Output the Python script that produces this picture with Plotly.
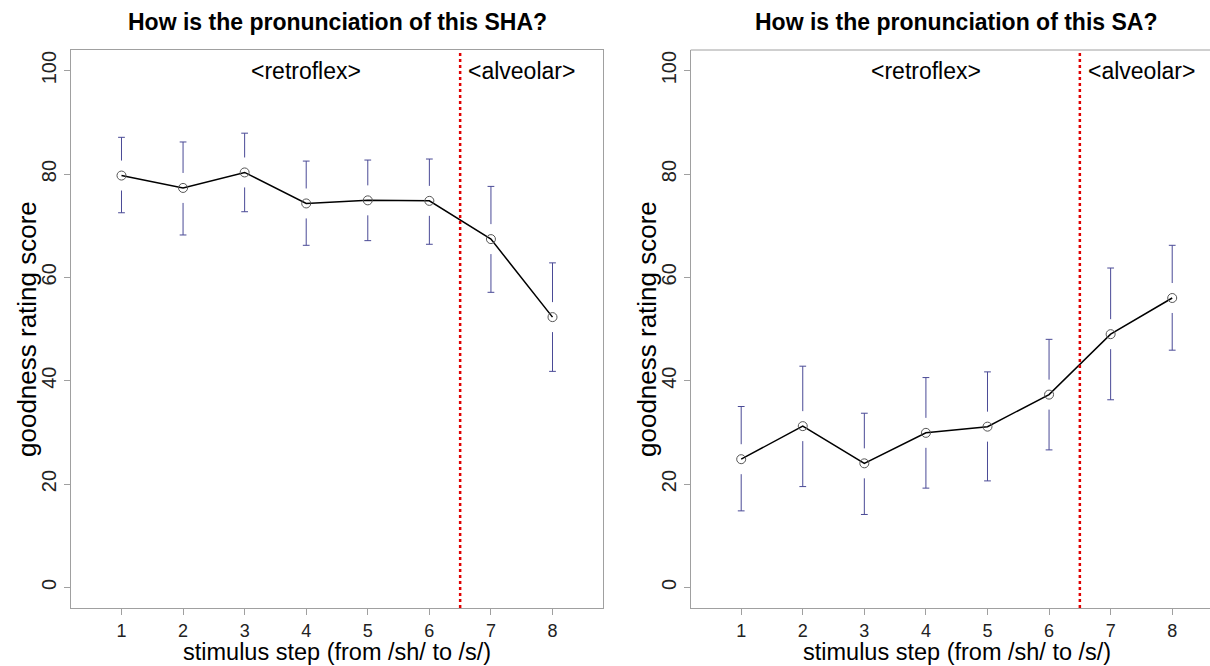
import plotly.graph_objects as go

steps = [1, 2, 3, 4, 5, 6, 7, 8]

sha_mean = [79.7, 77.3, 80.3, 74.3, 74.9, 74.8, 67.4, 52.3]
sha_upper = [87.1, 86.2, 87.9, 82.5, 82.7, 82.9, 77.6, 62.8]
sha_lower = [72.5, 68.2, 72.7, 66.2, 67.1, 66.4, 57.1, 41.8]

sa_mean = [24.8, 31.2, 24.0, 29.9, 31.1, 37.3, 49.0, 56.0]
sa_upper = [35.0, 42.8, 33.7, 40.6, 41.7, 48.0, 61.8, 66.2]
sa_lower = [14.8, 19.5, 14.1, 19.2, 20.6, 26.6, 36.3, 45.9]

titles = ["How is the pronunciation of this SHA?", "How is the pronunciation of this SA?"]
x_title = "stimulus step (from /sh/ to /s/)"
y_title = "goodness rating score"
region_labels = ["<retroflex>", "<alveolar>"]
region_x = [4, 7.5]
boundary = 6.5
y_ticks = [0, 20, 40, 60, 80, 100]

W, H = 1210, 666
FONT = "Liberation Sans, Arial, sans-serif"
ERR_COLOR = "#4a4a96"
FRAME = "#a0a0a0"
GAP = 2.9      # gap around the point (value units)
CAP = 0.055    # half-width of the caps (x units)

fig = go.Figure()


def add_panel(xa, ya, mean, upper, lower):
    ex, ey = [], []
    for x, m, u, l in zip(steps, mean, upper, lower):
        ex += [x, x, None, x, x, None, x - CAP, x + CAP, None, x - CAP, x + CAP, None]
        ey += [m + GAP, u, None, m - GAP, l, None, u, u, None, l, l, None]
    fig.add_trace(go.Scatter(x=ex, y=ey, mode="lines", xaxis=xa, yaxis=ya,
                             line=dict(color=ERR_COLOR, width=1),
                             hoverinfo="skip", showlegend=False))
    fig.add_trace(go.Scatter(x=steps, y=mean, mode="lines+markers", xaxis=xa, yaxis=ya,
                             line=dict(color="black", width=1.5),
                             marker=dict(symbol="circle-open", size=9,
                                         color="#555555", line=dict(width=1)),
                             showlegend=False))


add_panel("x", "y", sha_mean, sha_upper, sha_lower)
add_panel("x2", "y2", sa_mean, sa_upper, sa_lower)

plot_top, plot_bottom = 50, 608
ph = plot_bottom - plot_top
left_dom = [71 / W, 603 / W]
right_dom = [690.7 / W, 1.0]
unit = (603 - 71) / 8.64
right_max = 0.18 + (W - 690.7) / unit

tick_common = dict(showline=True, linecolor=FRAME, linewidth=1,
                   ticks="outside", ticklen=6, tickcolor=FRAME, tickwidth=1,
                   showgrid=False, zeroline=False)
xfont = dict(family=FONT, size=18, color="#222222")
yfont = dict(family=FONT, size=20, color="#222222")

fig.update_layout(
    width=W, height=H,
    margin=dict(l=0, r=0, t=plot_top, b=H - plot_bottom),
    paper_bgcolor="white", plot_bgcolor="white",
    xaxis=dict(domain=left_dom, range=[0.18, 8.82], tickvals=steps, tickfont=xfont,
               mirror=True, **tick_common),
    yaxis=dict(domain=[0, 1], range=[-4, 104], tickvals=y_ticks, tickangle=-90,
               tickfont=yfont, anchor="x", mirror=True, **tick_common),
    xaxis2=dict(domain=right_dom, range=[0.18, right_max], tickvals=steps, tickfont=xfont,
                anchor="y2", mirror=False, **tick_common),
    yaxis2=dict(domain=[0, 1], range=[-4, 104], tickvals=y_ticks, tickangle=-90,
                tickfont=yfont, anchor="x2", mirror=False, **tick_common),
)

shapes = [dict(type="line", xref="x2 domain", yref="y2 domain", x0=0, x1=1, y0=1, y1=1,
               line=dict(color=FRAME, width=1))]
annotations = []
centers = [(71 + 603) / 2, (690.7 + 690.7 + 8.64 * unit) / 2]
ylab_x = [27, 647]
for i, (xr, yr) in enumerate([("x", "y"), ("x2", "y2")]):
    shapes.append(dict(type="line", xref=xr, yref=yr + " domain", x0=boundary, x1=boundary,
                       y0=0, y1=1, line=dict(color="#e00000", width=2.5, dash="dot")))
    for lab, lx in zip(region_labels, region_x):
        annotations.append(dict(text=lab, x=lx, y=100, xref=xr, yref=yr, showarrow=False,
                                xanchor="center", yanchor="middle",
                                font=dict(family=FONT, size=23, color="black")))
    annotations.append(dict(text="<b>" + titles[i] + "</b>", x=centers[i] / W,
                            y=1 + (plot_top - 22) / ph, xref="paper", yref="paper",
                            showarrow=False, xanchor="center", yanchor="middle",
                            font=dict(family=FONT, size=23, color="black")))
    annotations.append(dict(text=x_title, x=centers[i] / W, y=-(652 - plot_bottom) / ph,
                            xref="paper", yref="paper", showarrow=False,
                            xanchor="center", yanchor="middle",
                            font=dict(family=FONT, size=23.5, color="black")))
    annotations.append(dict(text=y_title, x=ylab_x[i] / W, y=0.5, textangle=-90,
                            xref="paper", yref="paper", showarrow=False,
                            xanchor="center", yanchor="middle",
                            font=dict(family=FONT, size=26, color="black")))

fig.update_layout(shapes=shapes, annotations=annotations)
fig.write_html("out.html", config={"displayModeBar": False},
               post_script="document.body.style.margin='0';")
